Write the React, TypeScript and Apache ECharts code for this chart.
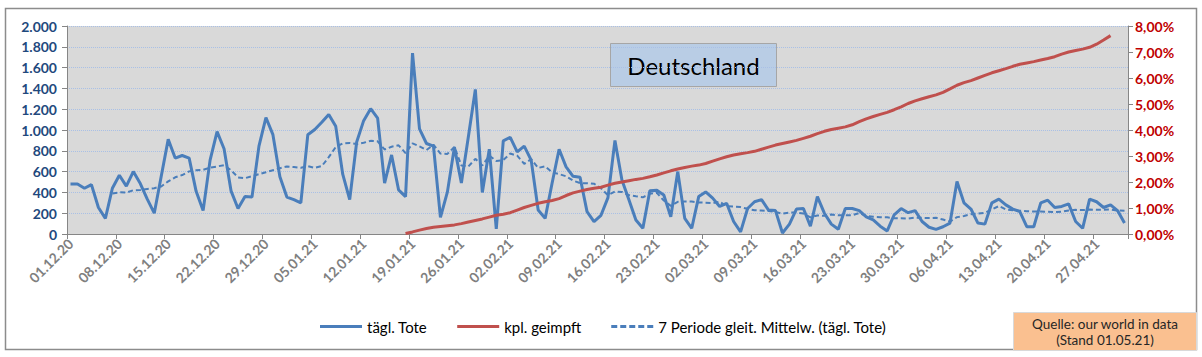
import React, { useEffect, useRef } from "react";
import * as echarts from "echarts";

// daily deaths (tägl. Tote), 01.12.20 .. 01.05.21
const dailyDeaths: number[] = [
  480, 480, 440, 475, 255, 150, 440, 565, 460, 600, 485, 335, 200, 555, 910, 730, 755, 730, 410, 225,
  710, 985, 820, 415, 245, 360, 355, 845, 1120, 955, 550, 355, 330, 300, 955, 1005, 1075, 1150, 1035, 575,
  330, 885, 1090, 1205, 1115, 490, 760, 425, 360, 1740, 1010, 870, 845, 160, 405, 835, 490, 935, 1390, 400,
  815, 50, 895, 930, 790, 845, 710, 230, 150, 490, 815, 645, 555, 545, 215, 120, 180, 350, 900, 520,
  330, 135, 55, 415, 420, 375, 165, 600, 150, 55, 360, 405, 345, 265, 295, 120, 20, 245, 310, 330,
  230, 225, 10, 95, 240, 245, 75, 360, 200, 95, 45, 245, 245, 225, 165, 135, 75, 30, 185, 245,
  205, 225, 120, 65, 45, 70, 105, 505, 300, 240, 105, 95, 300, 335, 280, 240, 215, 70, 70, 300,
  325, 255, 265, 290, 120, 55, 335, 310, 255, 280, 225, 105,
];

// fully vaccinated share in percent (kpl. geimpft), starting 18.01.21 (index 48)
const vaccStartIndex = 48;
const vaccinatedPct: number[] = [
  0.02, 0.08, 0.15, 0.21, 0.26, 0.29, 0.32, 0.35, 0.40, 0.46, 0.52, 0.58, 0.65, 0.72, 0.76, 0.82, 0.92, 1.02, 1.10, 1.18,
  1.24, 1.29, 1.36, 1.48, 1.58, 1.65, 1.71, 1.76, 1.80, 1.88, 1.95, 2.00, 2.05, 2.10, 2.14, 2.20, 2.27, 2.35, 2.43, 2.50,
  2.56, 2.61, 2.65, 2.71, 2.80, 2.89, 2.97, 3.04, 3.09, 3.13, 3.18, 3.26, 3.34, 3.42, 3.48, 3.54, 3.60, 3.68, 3.76, 3.86,
  3.95, 4.02, 4.07, 4.12, 4.20, 4.32, 4.43, 4.52, 4.60, 4.68, 4.78, 4.89, 5.02, 5.12, 5.20, 5.28, 5.35, 5.45, 5.58, 5.72,
  5.82, 5.90, 6.00, 6.10, 6.20, 6.28, 6.36, 6.45, 6.53, 6.58, 6.63, 6.69, 6.75, 6.82, 6.92, 7.00, 7.06, 7.11, 7.18, 7.30,
  7.46, 7.63,
];

const leftTicks = { min: 0, max: 2000, interval: 200 };
const rightTicks = { min: 0, max: 8, interval: 1 };

const seriesNames = ["tägl. Tote", "kpl. geimpft", "7 Periode gleit. Mittelw. (tägl. Tote)"];

function buildDates(n: number): string[] {
  const out: string[] = [];
  const d = new Date(2020, 11, 1);
  for (let i = 0; i < n; i++) {
    const dd = String(d.getDate()).padStart(2, "0");
    const mm = String(d.getMonth() + 1).padStart(2, "0");
    const yy = String(d.getFullYear() % 100).padStart(2, "0");
    out.push(`${dd}.${mm}.${yy}`);
    d.setDate(d.getDate() + 1);
  }
  return out;
}

// Excel-style 7 period moving-average trendline of the daily deaths
function movingAverage(vals: number[], p: number): (number | null)[] {
  return vals.map((_, i) => {
    if (i < p - 1) return null;
    let s = 0;
    for (let k = i - p + 1; k <= i; k++) s += vals[k];
    return s / p;
  });
}

const FONT = "Lato, 'Liberation Sans', sans-serif";
const SOLID_ICON = "path://M0,0L42,0L42,3L0,3Z";
const DASH_ICON =
  "path://M0,0L6,0L6,3L0,3Z M9,0L15,0L15,3L9,3Z M18,0L24,0L24,3L18,3Z M27,0L33,0L33,3L27,3Z M36,0L42,0L42,3L36,3Z";

export default function App() {
  const ref = useRef<HTMLDivElement>(null);
  useEffect(() => {
    if (!ref.current) return;
    const chart = echarts.init(ref.current, undefined, { renderer: "svg" });
    const dates = buildDates(dailyDeaths.length);
    const vacc: (number | null)[] = dates.map((_, i) => {
      const k = i - vaccStartIndex;
      return k >= 0 && k < vaccinatedPct.length ? vaccinatedPct[k] : null;
    });
    const ma = movingAverage(dailyDeaths, 7);
    const blue = "#4a7ebb";
    chart.setOption({
      animation: false,
      backgroundColor: "#ffffff",
      textStyle: { fontFamily: FONT },
      grid: { left: 67, right: 74, top: 26, bottom: 123, show: true, backgroundColor: "#d9d9d9", borderWidth: 0 },
      legend: {
        left: 315,
        top: 314,
        itemWidth: 42,
        itemHeight: 3,
        itemGap: 30,
        textStyle: { fontSize: 15, color: "#000000", fontFamily: FONT },
        data: [
          { name: seriesNames[0], icon: SOLID_ICON },
          { name: seriesNames[1], icon: SOLID_ICON },
          { name: seriesNames[2], icon: DASH_ICON },
        ],
      },
      xAxis: {
        type: "category",
        data: dates,
        boundaryGap: true,
        axisLine: { lineStyle: { color: "#868686", width: 1 } },
        axisTick: { show: true, interval: 6, length: 5, lineStyle: { color: "#868686" } },
        axisLabel: {
          interval: 6,
          rotate: 45,
          color: "#7f7f7f",
          fontWeight: "bold",
          fontSize: 14,
          fontFamily: FONT,
          margin: 7,
        },
        splitLine: { show: false },
      },
      yAxis: [
        {
          type: "value",
          ...leftTicks,
          axisLine: { show: true, lineStyle: { color: "#868686" } },
          axisTick: { show: true, length: 5, lineStyle: { color: "#868686" } },
          axisLabel: {
            color: "#1f497d",
            fontWeight: "bold",
            fontSize: 14,
            fontFamily: FONT,
            margin: 10,
            formatter: (v: number) => {
              if (v >= 1000) {
                const th = Math.floor(v / 1000);
                const rest = String(v % 1000).padStart(3, "0");
                return `${th}.${rest}`;
              }
              return String(v);
            },
          },
          splitLine: { show: true, lineStyle: { color: "#a9c0e6", type: "dotted", width: 1 } },
        },
        {
          type: "value",
          ...rightTicks,
          position: "right",
          axisLine: { show: true, lineStyle: { color: "#868686" } },
          axisTick: { show: true, length: 5, lineStyle: { color: "#868686" } },
          axisLabel: {
            color: "#c00000",
            fontWeight: "bold",
            fontSize: 14,
            fontFamily: FONT,
            margin: 7,
            formatter: (v: number) => v.toFixed(2).replace(".", ",") + "%",
          },
          splitLine: { show: false },
        },
      ],
      series: [
        {
          name: seriesNames[0],
          type: "line",
          data: dailyDeaths,
          yAxisIndex: 0,
          symbol: "none",
          lineStyle: { color: blue, width: 3 },
          itemStyle: { color: blue },
          z: 3,
        },
        {
          name: seriesNames[1],
          type: "line",
          data: vacc,
          yAxisIndex: 1,
          symbol: "none",
          connectNulls: false,
          lineStyle: { color: "#c0504d", width: 3 },
          itemStyle: { color: "#c0504d" },
          z: 4,
        },
        {
          name: seriesNames[2],
          type: "line",
          data: ma,
          yAxisIndex: 0,
          symbol: "none",
          lineStyle: { color: blue, width: 2, type: [5, 3] },
          itemStyle: { color: blue },
          z: 2,
        },
      ],
      graphic: [
        {
          type: "rect",
          shape: { x: 5.5, y: 8.5, width: 1191, height: 341 },
          style: { fill: "none", stroke: "#8c8c8c", lineWidth: 1.5 },
          silent: true,
          z: -1,
        },
        {
          type: "group",
          left: 610,
          top: 43,
          children: [
            {
              type: "rect",
              shape: { x: 0, y: 0, width: 166, height: 43 },
              style: { fill: "#b9cde5", stroke: "#a6a6a6", lineWidth: 1 },
            },
            {
              type: "text",
              x: 83,
              y: 21.5,
              style: {
                text: "Deutschland",
                fill: "#000000",
                font: `24px ${FONT}`,
                align: "center",
                verticalAlign: "middle",
              },
            },
          ],
          z: 10,
        },
        {
          type: "group",
          left: 1013,
          top: 312,
          children: [
            {
              type: "rect",
              shape: { x: 0, y: 0, width: 183, height: 38 },
              style: { fill: "#fac090", stroke: "#d9d9d9", lineWidth: 1 },
            },
            {
              type: "text",
              x: 91.5,
              y: 11,
              style: { text: "Quelle: our world in data", fill: "#262626", font: `13.5px ${FONT}`, align: "center", verticalAlign: "middle" },
            },
            {
              type: "text",
              x: 91.5,
              y: 27,
              style: { text: "(Stand 01.05.21)", fill: "#262626", font: `13.5px ${FONT}`, align: "center", verticalAlign: "middle" },
            },
          ],
          z: 10,
        },
      ],
    });
    return () => chart.dispose();
  }, []);
  return (
    <div
      ref={ref}
      style={{ position: "fixed", left: 0, top: 0, width: 1202, height: 357 }}
    />
  );
}
